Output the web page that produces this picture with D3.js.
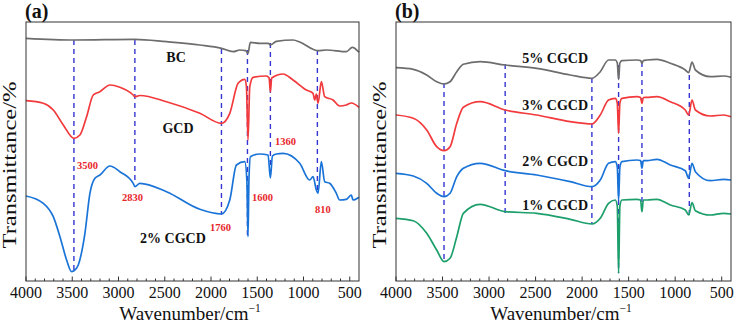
<!DOCTYPE html>
<html>
<head>
<meta charset="utf-8">
<script src="https://cdn.jsdelivr.net/npm/d3@7"></script>
<style>
  body { margin: 0; background: #fff; }
  text { font-family: "Liberation Serif", "Times New Roman", serif; }
</style>
</head>
<body>
<div id="plot"></div>
<script>
// ---- data (wavenumber cm-1, transmittance in arbitrary offset units) ----
const wnTicks = [4000, 3500, 3000, 2500, 2000, 1500, 1000, 500];

// panel (a)
const bcA = [[4000,242.7],[3482,241],[2823,241.7],[2481,239.3],[2121,236],[1887,232.7],[1761,229.3],[1689,231],
  [1625,230.3],[1600,227.7],[1575,238.7],[1473,237.7],[1380,237.7],[1358,236],[1293,239.7],[1113,241],[1041,239],
  [897,231.7],[843,230.3],[753,231],[537,229.3],[472,233.7],[400,228.7]];

const gcdA = [[4000,180.3],[3813,177.7],[3705,171],[3597,156],[3482,142.7],[3417,146],[3345,164.3],[3273,186],
  [3201,189.3],[3093,196],[2985,193.7],[2841,186],[2823,184.3],[2769,185.5],[2481,179.3],[2121,167.7],[1887,157.7],
  [1797,167.7],[1707,197.7],[1635,201.7],[1617,194.3],[1600,141],[1581,194.3],[1545,203.7],[1401,205],[1372,203],
  [1358,189.3],[1344,203],[1221,207],[1113,201],[969,191],[897,187.7],[879,181],[861,187],[843,177.7],[807,199.3],
  [771,184.3],[681,181],[609,175],[537,176],[483,178],[400,173.7]];

const cgcd2A = [[4000,85],[3813,77.7],[3705,64.3],[3633,44.3],[3561,21],[3507,9.3],[3482,10.3],[3435,16],[3363,47.7],
  [3309,87.7],[3255,102.7],[3201,106],[3093,115],[2985,109.3],[2841,97.7],[2823,94.3],[2769,97.7],[2481,89.3],
  [2121,71.7],[1887,67],[1797,81],[1725,116],[1635,119.3],[1612,100],[1600,44.3],[1590,100],[1574,124.3],[1473,127],
  [1383,126],[1358,103],[1336,125],[1293,127],[1221,127.7],[1041,117.7],[933,101],[897,104.3],[861,91],[843,87.7],
  [807,119.3],[771,99.3],[717,97.7],[645,87.7],[609,81],[537,81.7],[483,86],[465,81],[400,83.7]];

const peaksA = [[3482,241,9],[2823,241,99],[1887,232,66],[1606,231,43],[1358,238,104],[850,231,88]];
const peakTextA = [["3500",3449,112],["2830",2962,80],["1760",2011,50],["1600",1557,80],["810",876,68],["1360",1308,136]];
const namesA = [["BC",2378,219],["GCD",2357,148],["2% CGCD",2411,38]];

// panel (b)
const wnB = [4000,3814,3670,3563,3484,3419,3347,3276,3096,2827,2487,2128,1895,1805,1716,1644,1622,1608,1594,1572,
  1411,1372,1357,1342,1303,1196,1052,891,855,819,783,622,479,400];
const cgcd5B = [213.3,211.7,206,199.3,197,199.3,209.3,216.7,219.3,216,212.7,206,202.7,209.3,221,221,218,201.7,218,220.3,
  221,220.5,217.7,220.5,221,221.7,217.7,211,208.3,219,211,204.3,205,203.7];
const cgcd3B = [166,162.7,151,134.3,130.3,134.3,157.7,173.7,179.3,171,166,159.3,157,166,181,182.7,178,147.7,178,182.7,
  184.3,183.5,177.7,183.5,183.7,184.3,179.3,171,166,181,171,165,166,164.3];
const cgcd2B = [107.7,105,97.7,87.7,84.3,87.7,104.3,112.7,117.7,110.3,106,99.3,94.3,101,117.7,119.3,114,81,114,119.3,
  121,120.5,112.7,120.5,120.3,121.7,116,110.3,102.7,117.7,109.3,100.3,101.7,101];
const cgcd1B = [62.7,60.3,47.7,31,19.3,22.7,44.3,67.7,76.7,69.3,67.7,61.7,57,62.7,77.7,81,75,7.7,75,81,
  81.7,81,69.3,81,81,81.7,76,71,66,78.3,70.3,66,67.7,67];

const peaksB = [[3484,198,19],[2827,217,68],[1895,203,57],[1608,216,8],[1357,219,69],[848,206,63]];
const namesB = [["5% CGCD",1936,218],["3% CGCD",1936,171],["2% CGCD",1936,115],["1% CGCD",1936,71]];

const colors = { gray: "#6d6d6d", red: "#f23a3c", blue: "#1a74d8", green: "#1c9f6b", dash: "#3535d2", label: "#e8262a" };

// ---- drawing ----
const W = 734, H = 323;
const svg = d3.select("#plot").append("svg").attr("width", W).attr("height", H);

const plotTop = 22, plotBottom = 281;
const y = d3.scaleLinear().domain([0, 259]).range([plotBottom, plotTop]);

function drawPanel(x0, x1, letter, series, peaks) {
    const x = d3.scaleLinear().domain([4000, 400]).range([x0, x1]);
    const g = svg.append("g");

    // dashed peak markers
    g.selectAll("line.peak")
        .data(peaks)
        .enter()
        .append("line")
        .attr("x1", d => x(d[0])).attr("x2", d => x(d[0]))
        .attr("y1", d => y(d[1])).attr("y2", d => y(d[2]))
        .attr("stroke", colors.dash)
        .attr("stroke-width", 1.4)
        .attr("stroke-dasharray", "5,4");

    const line = d3.line()
        .x(d => x(d[0]))
        .y(d => y(d[1]))
        .curve(d3.curveMonotoneX);

    series.forEach(s => {
        g.append("path")
            .datum(s.data)
            .attr("d", line)
            .attr("fill", "none")
            .attr("stroke", s.color)
            .attr("stroke-width", 1.7)
            .attr("stroke-linejoin", "round");
    });

    // frame
    g.append("rect")
        .attr("x", x0).attr("y", plotTop)
        .attr("width", x1 - x0).attr("height", plotBottom - plotTop)
        .attr("fill", "none")
        .attr("stroke", "#333")
        .attr("stroke-width", 1);

    // inward ticks: minor every 100, major every 500
    const minor = d3.range(500, 4000, 100).filter(v => v % 500 !== 0);
    g.selectAll("line.minor")
        .data(minor)
        .enter()
        .append("line")
        .attr("x1", d => x(d)).attr("x2", d => x(d))
        .attr("y1", plotBottom).attr("y2", plotBottom - 2.5)
        .attr("stroke", "#333");
    g.selectAll("line.major")
        .data(wnTicks)
        .enter()
        .append("line")
        .attr("x1", d => x(d)).attr("x2", d => x(d))
        .attr("y1", plotBottom).attr("y2", plotBottom - 4.5)
        .attr("stroke", "#333");

    g.selectAll("text.tick")
        .data(wnTicks)
        .enter()
        .append("text")
        .attr("x", d => x(d))
        .attr("y", 298)
        .attr("text-anchor", "middle")
        .attr("font-size", "16px")
        .attr("fill", "#111")
        .text(d => d);

    // x axis title
    const xt = g.append("text")
        .attr("x", (x0 + x1) / 2 - 2.5)
        .attr("y", 320)
        .attr("text-anchor", "middle")
        .attr("font-size", "19px")
        .attr("fill", "#111");
    xt.append("tspan").text("Wavenumber/cm");
    xt.append("tspan").attr("dy", -8).attr("font-size", "11.5px").text("\u22121");

    // y axis title
    g.append("text")
        .attr("transform", `translate(${x0 - 10},${165}) rotate(-90)`)
        .attr("text-anchor", "middle")
        .attr("font-size", "18.5px")
        .attr("fill", "#111")
        .attr("textLength", 167)
        .attr("lengthAdjust", "spacingAndGlyphs")
        .text("Transmittance/%");

    // panel letter
    g.append("text")
        .attr("x", x0 - 1)
        .attr("y", 18)
        .attr("font-size", "20px")
        .attr("font-weight", "bold")
        .attr("fill", "#111")
        .text(letter);

    return { g, x };
}

const pa = drawPanel(26, 359, "(a)", [
    { data: bcA, color: colors.gray },
    { data: gcdA, color: colors.red },
    { data: cgcd2A, color: colors.blue }
], peaksA);

pa.g.selectAll("text.peak")
    .data(peakTextA)
    .enter()
    .append("text")
    .attr("x", d => pa.x(d[1]))
    .attr("y", d => y(d[2]))
    .attr("font-size", "10.5px")
    .attr("font-weight", "bold")
    .attr("fill", colors.label)
    .text(d => d[0]);

pa.g.selectAll("text.name")
    .data(namesA)
    .enter()
    .append("text")
    .attr("x", d => pa.x(d[1]))
    .attr("y", d => y(d[2]))
    .attr("text-anchor", "middle")
    .attr("font-size", "14px")
    .attr("font-weight", "bold")
    .attr("fill", "#111")
    .text(d => d[0]);

const zipB = vals => wnB.map((w, i) => [w, vals[i]]);
const pb = drawPanel(396, 731, "(b)", [
    { data: zipB(cgcd5B), color: colors.gray },
    { data: zipB(cgcd3B), color: colors.red },
    { data: zipB(cgcd2B), color: colors.blue },
    { data: zipB(cgcd1B), color: colors.green }
], peaksB);

pb.g.selectAll("text.name")
    .data(namesB)
    .enter()
    .append("text")
    .attr("x", d => pb.x(d[1]))
    .attr("y", d => y(d[2]))
    .attr("text-anchor", "end")
    .attr("font-size", "14px")
    .attr("font-weight", "bold")
    .attr("fill", "#111")
    .text(d => d[0]);
</script>
</body>
</html>
